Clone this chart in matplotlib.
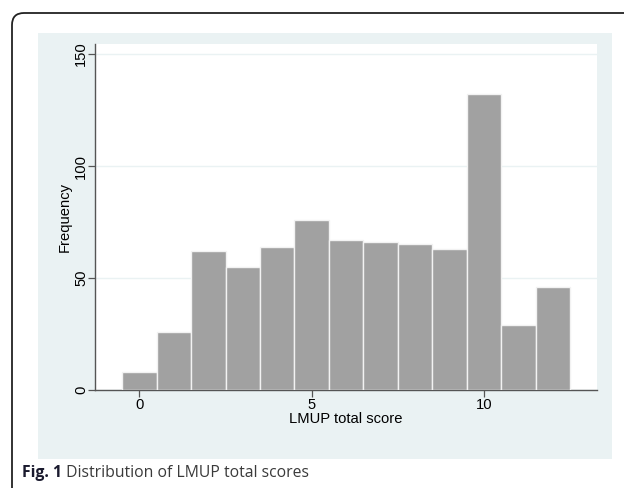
import matplotlib
matplotlib.use("Agg")
import matplotlib.pyplot as plt
from matplotlib.patches import FancyBboxPatch, Rectangle
from matplotlib.transforms import IdentityTransform

scores = [0, 1, 2, 3, 4, 5, 6, 7, 8, 9, 10, 11, 12]
frequency = [8, 26, 62, 55, 64, 76, 67, 66, 65, 63, 132, 29, 46]
x_ticks = [0, 5, 10]
y_ticks = [0, 50, 100, 150]
x_label = "LMUP total score"
y_label = "Frequency"
caption_bold = "Fig. 1"
caption_rest = " Distribution of LMUP total scores"

W, H = 624, 488
fig = plt.figure(figsize=(W / 100, H / 100), dpi=100)
fig.patch.set_facecolor("white")

# outer rounded frame (only top-left corner visible)
frame = FancyBboxPatch((12, -60), 800, H - 13 + 60,
                       boxstyle="round,pad=0,rounding_size=12",
                       transform=IdentityTransform(), facecolor="none",
                       edgecolor="#222222", linewidth=1.3, zorder=-2)
fig.patches.append(frame)

# light blue graph region
panel = Rectangle((38 / W, 1 - 459 / H), (612 - 38) / W, (459 - 33) / H,
                  transform=fig.transFigure, facecolor="#EAF2F3",
                  edgecolor="none", zorder=-1)
fig.patches.append(panel)

ax = fig.add_axes([95 / W, 1 - 390 / H, (597 - 95) / W, (390 - 44) / H])
ax.set_zorder(2)
ax.set_facecolor("white")
ax.bar(scores, frequency, width=1.0, color="#A1A1A1", edgecolor="#F2F2F2",
       linewidth=1.0, zorder=3)
ax.set_xlim(-1.29, 13.28)
ax.set_ylim(0, 154.5)
ax.set_xticks(x_ticks)
ax.set_yticks(y_ticks)
ax.set_xticklabels([str(v) for v in x_ticks])
ax.set_yticklabels([str(v) for v in y_ticks], rotation=90, va="center")
ax.yaxis.grid(True, color="#EAF2F3", linewidth=1.0, zorder=1)
ax.set_axisbelow(True)
for s in ["top", "right"]:
    ax.spines[s].set_visible(False)
for s in ["left", "bottom"]:
    ax.spines[s].set_color("#555555")
    ax.spines[s].set_linewidth(1.0)
ax.tick_params(axis="both", length=5, width=0.9, color="#555555",
               labelsize=10.6, labelcolor="#000000")
ax.tick_params(axis="x", pad=0.5)
ax.tick_params(axis="y", pad=0)
for lbl in ax.get_xticklabels() + ax.get_yticklabels():
    lbl.set_fontfamily("Liberation Sans")
ax.set_xlabel(x_label, fontsize=10.6, family="Liberation Sans", color="#000000",
              labelpad=0.5)
ax.set_ylabel(y_label, fontsize=10.6, family="Liberation Sans", color="#000000",
              labelpad=2)

# caption
t1 = fig.text(22 / W, 1 - 477 / H, caption_bold, fontsize=11.3,
              family="Open Sans", fontweight="bold", color="#1A1A2E",
              va="baseline", ha="left")
fig.canvas.draw()
bb = t1.get_window_extent()
fig.text(bb.x1 / W, 1 - 477 / H, caption_rest, fontsize=11.3,
         family="Open Sans", color="#3A3A3A", va="baseline", ha="left")

fig.savefig("out.png", dpi=100, facecolor="white")
